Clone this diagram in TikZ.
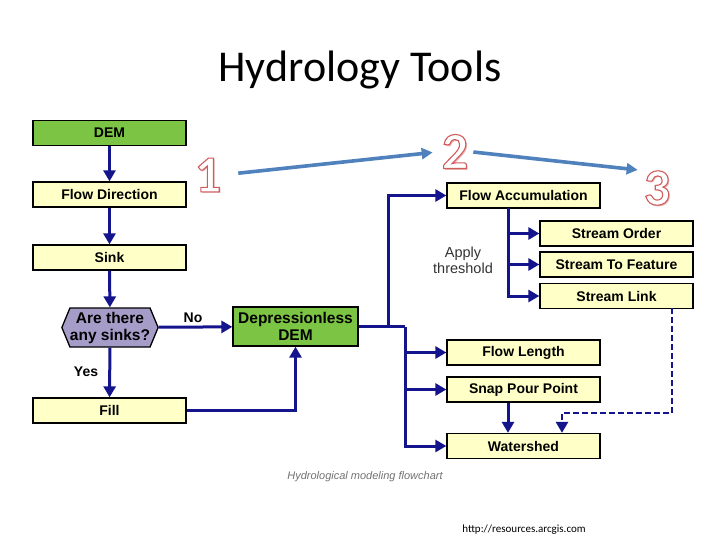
\documentclass[tikz,border=0pt]{standalone}
\usepackage{fontspec}
\setmainfont{Liberation Sans}
\newfontfamily\calib{Carlito}
\usetikzlibrary{arrows.meta,shapes.symbols}
\definecolor{navy}{HTML}{14148C}
\definecolor{boxyellow}{HTML}{FFFFC8}
\definecolor{boxgreen}{HTML}{7CC443}
\definecolor{hexpurple}{HTML}{A69CC8}
\definecolor{stepblue}{HTML}{4F81BD}
\definecolor{numshadow}{HTML}{E8B8B8}
\newcommand\outlinedigit[1]{\special{pdf:literal direct 2 Tr 1.1 w 0.82 0.36 0.36 RG}#1\special{pdf:literal direct 0 Tr}}
\begin{document}
\begin{tikzpicture}[x=1pt,y=-1pt,
  box/.style={draw=black, line width=1.3pt, minimum width=153pt, minimum height=25pt, inner sep=0pt,
    font=\fontsize{14}{15}\selectfont\bfseries, text=black},
  ybox/.style={box, fill=boxyellow},
  gbox/.style={box, fill=boxgreen},
  bigtext/.style={font=\fontsize{15.5}{17}\selectfont\bfseries, align=center},
  conn/.style={draw=navy, line width=3pt},
  flow/.style={conn, -{Triangle[length=11pt,width=12pt]}},
  lbl/.style={font=\fontsize{14}{15}\selectfont\bfseries, text=black},
  numstyle/.style={font=\calib\bfseries\fontsize{52}{52}\selectfont, inner sep=0pt, text=white},
  shadowstyle/.style={font=\calib\bfseries\fontsize{52}{52}\selectfont, inner sep=0pt, text=numshadow},
  steparrow/.style={draw=stepblue, line width=3.6pt, -{Triangle[length=11pt,width=11pt]}}
]
\useasboundingbox (0,0) rectangle (720,540);
\fill[white] (0,0) rectangle (720,540);

\node[font=\calib\fontsize{44}{48}\selectfont, anchor=base] (title) at (360,82) {Hydrology Tools};

% left column
\node[gbox] (dem) at (109.5,133) {DEM};
\node[ybox] (fd) at (109.5,194.5) {Flow Direction};
\node[ybox] (sink) at (109.5,257.5) {Sink};
\node[draw=black, line width=1.3pt, fill=hexpurple, signal, signal to=west and east,
  signal pointer angle=135, minimum width=96pt, minimum height=39pt, inner sep=0pt, bigtext]
  (q) at (110,327.5) {Are there\\any sinks?};
\node[ybox] (fill) at (109.5,410.5) {Fill};
\node[gbox, minimum width=125pt, minimum height=39pt, bigtext] (ddem) at (295.5,326.5) {Depressionless\\DEM};

\node[lbl] (yes) at (86,372) {Yes};
\node[lbl] (no) at (193,318) {No};

\draw[flow] (dem) -- (fd);
\draw[flow] (fd) -- (sink);
\draw[flow] (sink) -- (q);
\draw[flow] (q) -- (fill);
\draw[flow] (q) -- (ddem);
\draw[flow] (fill.east) -| (ddem.south);

% right part
\node[ybox] (facc) at (523.5,195.5) {Flow Accumulation};
\node[ybox] (so) at (616.5,233.5) {Stream Order};
\node[ybox] (stf) at (616.5,264.5) {Stream To Feature};
\node[ybox] (sl) at (616.5,296) {Stream Link};
\node[ybox] (fl) at (523.5,352.5) {Flow Length};
\node[ybox] (spp) at (523.5,389.5) {Snap Pour Point};
\node[ybox] (ws) at (523.5,446) {Watershed};

\node[font=\fontsize{14.5}{16}\selectfont, text=black!80, align=center] (thr) at (463,260) {Apply\\threshold};

\coordinate (j1) at (388,326.5);
\coordinate (j2) at (405,326.5);
\coordinate (j3) at (508,208);
\coordinate (d0) at (672,308);
\coordinate (dk) at (562,413);

\draw[conn] (ddem.east) -- (j2);
\draw[flow] (j1) |- (facc.west);
\draw[flow] (j2) |- (ws.west);
\draw[flow] (j2 |- fl) -- (fl.west);
\draw[flow] (j2 |- spp) -- (spp.west);

\draw[flow] (j3) |- (sl.west);
\draw[flow] (j3 |- so) -- (so.west);
\draw[flow] (j3 |- stf) -- (stf.west);

\draw[flow] (j3 |- spp.south) -- (j3 |- ws.north);
\draw[flow, line width=2.6pt, dash pattern=on 6pt off 3pt] (d0) |- (dk) -- (dk |- ws.north);

\node[font=\fontsize{11}{12}\selectfont\itshape, text=black!55] (cap) at (365,477) {Hydrological modeling flowchart};

% numbers
\node[shadowstyle] (n1s) at (209.5,176.5) {1};
\node[shadowstyle] (n2s) at (456.5,153) {2};
\node[shadowstyle] (n3s) at (658.5,189.5) {3};
\node[numstyle] (n1) at (208,175) {\outlinedigit{1}};
\node[numstyle] (n2) at (455,151.5) {\outlinedigit{2}};
\node[numstyle] (n3) at (657,188) {\outlinedigit{3}};
\draw[steparrow, shorten <=17pt, shorten >=9pt] (n1.east) -- (n2.west);
\draw[steparrow, shorten <=5pt, shorten >=6pt] (n2.east) -- (n3.north west);

\node[font=\calib\fontsize{11}{12}\selectfont, anchor=base] (url) at (524,532) {http://resources.arcgis.com};
\end{tikzpicture}
\end{document}
